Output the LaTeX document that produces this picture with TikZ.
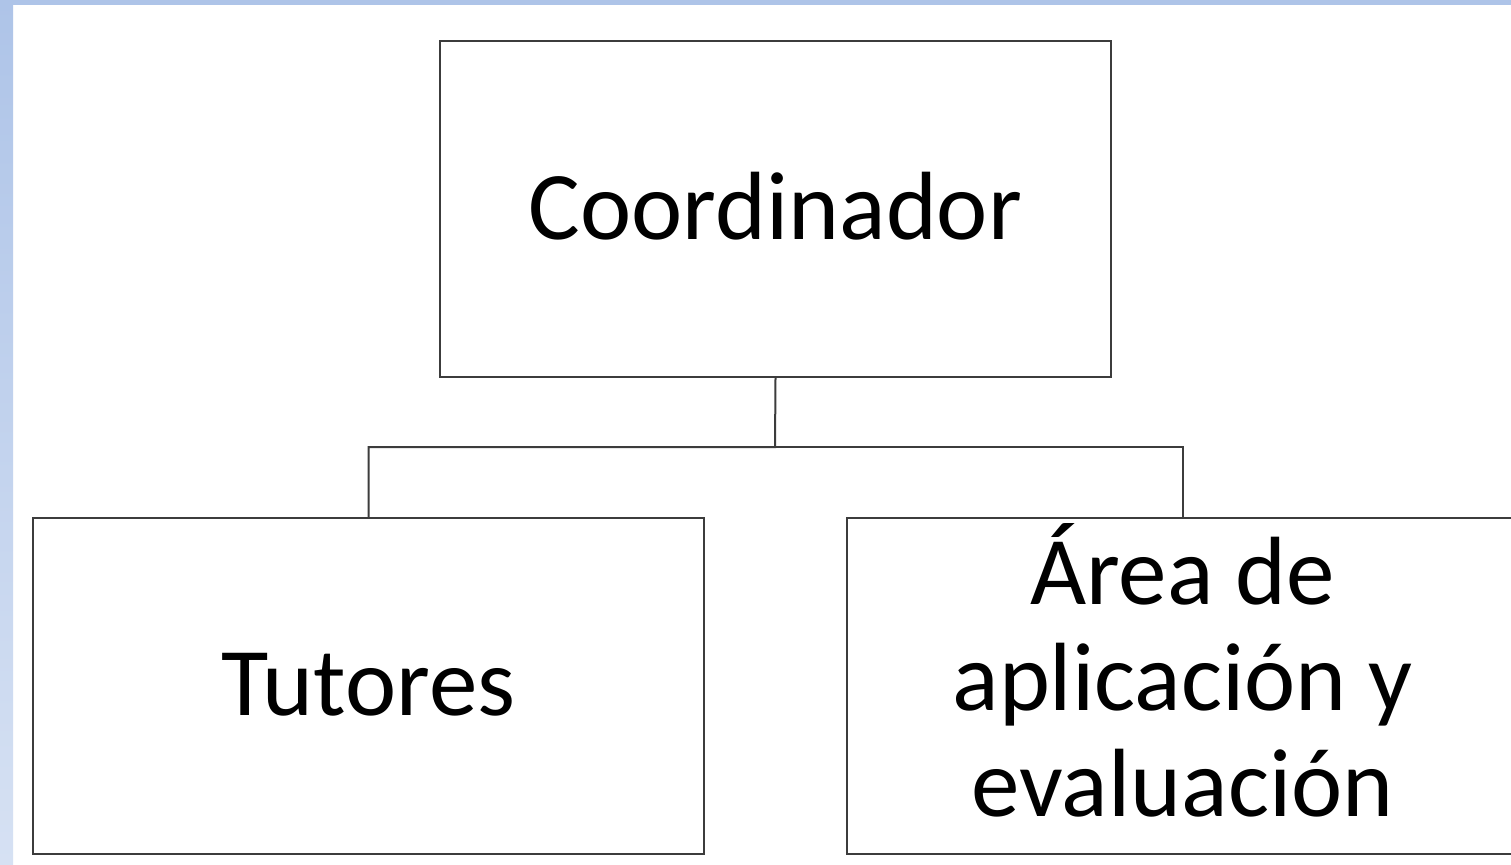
\documentclass[tikz,border=0pt]{standalone}
\usepackage{fontspec}
\setmainfont{Carlito}
\definecolor{stripA}{HTML}{AEC4E8}
\definecolor{stripB}{HTML}{D6E1F3}
\definecolor{edge}{HTML}{3C3C3C}
\begin{document}
\begin{tikzpicture}[x=1pt,y=-1pt,
  box/.style={draw=edge,line width=2pt,fill=white,minimum width=671pt,minimum height=336pt,inner sep=0pt,anchor=north west,
    font=\fontsize{97}{106}\selectfont,align=center,text=black},
  link/.style={draw=edge,line width=2pt}]
\useasboundingbox (0,0) rectangle (1511,864);
\clip (0,0) rectangle (1511,864);
\fill[white] (0,0) rectangle (1511,864);
\shade[top color=stripA,bottom color=stripB] (0,0) rectangle (13,864);
\fill[stripA] (0,0) rectangle (1511,5);
\node[box] (coord) at (439,40) {\raisebox{7pt}{Coordinador}};
\node[box] (tut) at (32,517) {\raisebox{4pt}{Tutores}};
\node[box] (area) at (846,517) {\raisebox{12pt}{\begin{tabular}{@{}c@{}}Área de\\aplicación y\\evaluación\end{tabular}}};
\coordinate (junc) at (775,447);
\draw[link] (coord.south) -- (junc) -| (tut.north);
\draw[link] (junc) -| (area.north);
\end{tikzpicture}
\end{document}
